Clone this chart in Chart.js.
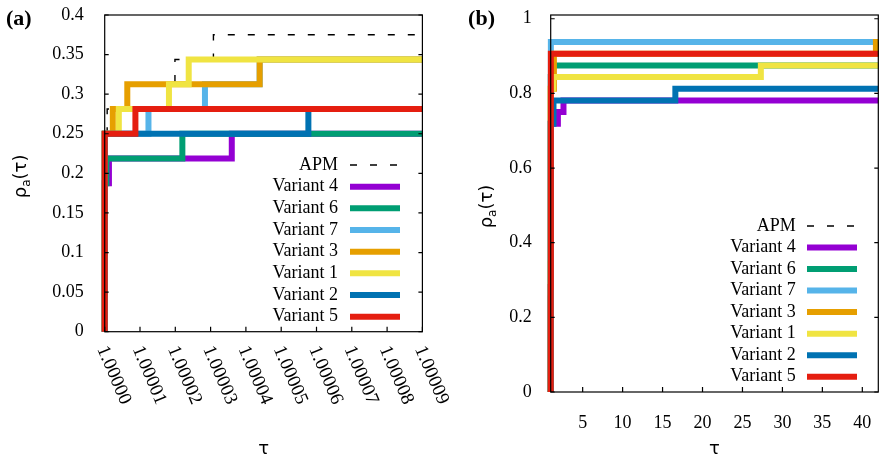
<!DOCTYPE html>
<html><head><meta charset="utf-8">
<script src="https://cdn.jsdelivr.net/npm/chart.js@4.4.0/dist/chart.umd.min.js"></script>
<style>
html,body{margin:0;padding:0;background:#fff;}
#wrap{position:relative;width:879px;height:459px;overflow:hidden;background:#fff;}
canvas{position:absolute;top:0;}
#ca{left:0;} #cb{left:440px;}
</style></head><body>
<div id="wrap"><canvas id="ca" width="470" height="459"></canvas><canvas id="cb" width="439" height="459"></canvas></div>
<script>
// ---------- data (performance profiles, step points: tau -> rho) ----------
const seriesNames = ['APM', 'Variant 4', 'Variant 6', 'Variant 7', 'Variant 3', 'Variant 1', 'Variant 2', 'Variant 5'];

const tauAPM = [1, 1, 1.0000007, 1.0000064, 1.0000199, 1.0000308, 1.01];
const rhoAPM = [0, 0.25, 0.28125, 0.3125, 0.34375, 0.375, 0.9375];

const tauV4 = [1, 1, 1.0000012, 1.0000360, 1.01, 1.9, 2.6];
const rhoV4 = [0, 0.1875, 0.21875, 0.25, 0.71875, 0.75, 0.78125];

const tauV6 = [1, 1, 1.0000005, 1.0000220, 1.01, 1.3];
const rhoV6 = [0, 0.1875, 0.21875, 0.25, 0.84375, 0.875];

const tauV7 = [1, 1, 1.0000124, 1.0000284, 1.0000439, 1.02];
const rhoV7 = [0, 0.25, 0.28125, 0.3125, 0.34375, 0.9375];

const tauV3 = [1, 1, 1.0000023, 1.0000064, 1.0000439, 1.01, 1.4, 41.7];
const rhoV3 = [0, 0.25, 0.28125, 0.3125, 0.34375, 0.8125, 0.90625, 0.9375];

const tauV1 = [1, 1, 1.0000040, 1.0000182, 1.0000238, 1.01, 1.3, 27.3];
const rhoV1 = [0, 0.25, 0.28125, 0.3125, 0.34375, 0.8125, 0.84375, 0.875];

const tauV2 = [1, 1, 1.0000577, 1.01, 1.35, 16.6];
const rhoV2 = [0, 0.25, 0.28125, 0.71875, 0.78125, 0.8125];

const tauV5 = [1, 1, 1.0000087, 1.02];
const rhoV5 = [0, 0.25, 0.28125, 0.90625];

const tauList = [tauAPM, tauV4, tauV6, tauV7, tauV3, tauV1, tauV2, tauV5];
const rhoList = [rhoAPM, rhoV4, rhoV6, rhoV7, rhoV3, rhoV1, rhoV2, rhoV5];

// ---------- ticks ----------
const xTicksA = [1.00000, 1.00001, 1.00002, 1.00003, 1.00004, 1.00005, 1.00006, 1.00007, 1.00008, 1.00009];
const xTickLabelsA = ['1.00000', '1.00001', '1.00002', '1.00003', '1.00004', '1.00005', '1.00006', '1.00007', '1.00008', '1.00009'];
const yTicksA = [0, 0.05, 0.1, 0.15, 0.2, 0.25, 0.3, 0.35, 0.4];
const yTickLabelsA = ['0', '0.05', '0.1', '0.15', '0.2', '0.25', '0.3', '0.35', '0.4'];
const xTicksB = [5, 10, 15, 20, 25, 30, 35, 40];
const xTickLabelsB = ['5', '10', '15', '20', '25', '30', '35', '40'];
const yTicksB = [0, 0.2, 0.4, 0.6, 0.8, 1];
const yTickLabelsB = ['0', '0.2', '0.4', '0.6', '0.8', '1'];

// ---------- text ----------
const panelLabels = ['(a)', '(b)'];
const xTitle = 'τ';
const yTitleParts = ['ρ', 'a', '(τ)'];

// ---------- styles ----------
const seriesColors = ['#000000', '#9400D3', '#009E73', '#56B4E9', '#E69F00', '#F0E442', '#0072B2', '#E51E10'];
const SERIF = '"Liberation Serif", "Times New Roman", serif';
const SANS = '"DejaVu Sans", sans-serif';

function stepData(tau, rho, xmax) {
  const pts = [];
  let last = rho[0];
  for (let i = 0; i < tau.length; i++) {
    if (tau[i] <= xmax) { pts.push({ x: tau[i], y: rho[i] }); last = rho[i]; }
  }
  pts.push({ x: xmax, y: last });
  return pts;
}

function makeDatasets(xmax) {
  return seriesNames.map((name, i) => ({
    label: name,
    data: stepData(tauList[i], rhoList[i], xmax),
    borderColor: seriesColors[i],
    backgroundColor: seriesColors[i],
    borderWidth: i === 0 ? 1.4 : 6,
    borderDash: i === 0 ? [7, 13] : [],
    stepped: 'before',
    pointRadius: 0,
    fill: false,
    clip: 4,
    order: seriesNames.length - 1 - i
  }));
}

const framePlugin = {
  id: 'gpFrame',
  afterDatasetsDraw(chart, args, o) {
    const { ctx, chartArea: a, scales: { x, y } } = chart;
    ctx.save();
    ctx.strokeStyle = '#000';
    ctx.lineWidth = 1.2;
    ctx.setLineDash([]);
    ctx.strokeRect(a.left, a.top, a.right - a.left, a.bottom - a.top);
    ctx.beginPath();
    x.ticks.forEach(t => {
      const px = x.getPixelForValue(t.value);
      ctx.moveTo(px, a.bottom); ctx.lineTo(px, a.bottom - o.xTick);
    });
    y.ticks.forEach(t => {
      const py = y.getPixelForValue(t.value);
      ctx.moveTo(a.left, py); ctx.lineTo(a.left + o.yTick, py);
      ctx.moveTo(a.right, py); ctx.lineTo(a.right - o.yTick, py);
    });
    ctx.stroke();
    ctx.restore();
  },
  afterDraw(chart, args, o) {
    const { ctx, chartArea: a, scales: { x } } = chart;
    ctx.save();
    ctx.fillStyle = '#000';
    // rotated tick labels
    if (o.rotLabels) {
      ctx.font = o.rotFont + 'px ' + SERIF;
      ctx.textAlign = 'left';
      ctx.textBaseline = 'middle';
      x.ticks.forEach((t, i) => {
        const px = x.getPixelForValue(t.value);
        ctx.save();
        ctx.translate(px + o.rotDx, a.bottom + o.rotDy);
        ctx.rotate(o.rotAngle * Math.PI / 180);
        ctx.fillText(o.rotLabels[i], 0, 0);
        ctx.restore();
      });
    }
    // legend
    const L = o.legend;
    chart.data.datasets.forEach((ds, i) => {
      const yy = L.y0 + i * L.dy;
      ctx.font = L.font + 'px ' + SERIF;
      ctx.textAlign = 'right';
      ctx.textBaseline = 'middle';
      ctx.fillStyle = '#000';
      ctx.fillText(ds.label, L.textRight, yy);
      ctx.beginPath();
      ctx.strokeStyle = ds.borderColor;
      ctx.lineWidth = ds.borderWidth;
      ctx.setLineDash(ds.borderDash || []);
      ctx.moveTo(L.x0, yy); ctx.lineTo(L.x1, yy);
      ctx.stroke();
    });
    ctx.setLineDash([]);
    // panel label
    ctx.font = 'bold ' + o.panel.size + 'px ' + SERIF;
    ctx.textAlign = o.panel.align;
    ctx.textBaseline = 'alphabetic';
    ctx.fillText(o.panel.text, o.panel.x, o.panel.y);
    // x title
    ctx.font = o.xt.size + 'px ' + SANS;
    ctx.textAlign = 'center';
    ctx.fillText(xTitle, (a.left + a.right) / 2, o.xt.y);
    // y title with subscript
    ctx.save();
    ctx.translate(o.yt.x, (a.top + a.bottom) / 2 + o.yt.dy);
    ctx.rotate(-Math.PI / 2);
    const parts = [[yTitleParts[0], o.yt.size, 0], [yTitleParts[1], o.yt.sub, o.yt.subDy], [yTitleParts[2], o.yt.size, 0]];
    let total = 0;
    parts.forEach(p => { ctx.font = p[1] + 'px ' + SANS; p.push(ctx.measureText(p[0]).width); total += p[3]; });
    let cx = -total / 2;
    ctx.textAlign = 'left';
    ctx.textBaseline = 'alphabetic';
    parts.forEach(p => { ctx.font = p[1] + 'px ' + SANS; ctx.fillText(p[0], cx, o.yt.base + p[2]); cx += p[3]; });
    ctx.restore();
    ctx.restore();
  }
};

function makeChart(id, c) {
  return new Chart(document.getElementById(id), {
    type: 'line',
    data: { datasets: makeDatasets(c.xmax) },
    options: {
      responsive: false,
      animation: false,
      devicePixelRatio: 1,
      layout: { padding: { left: 0, top: c.top, right: c.padRight, bottom: 0 } },
      elements: { line: { tension: 0 } },
      plugins: {
        legend: { display: false },
        tooltip: { enabled: false },
        gpFrame: c.frame
      },
      scales: {
        x: {
          type: 'linear', min: c.xmin, max: c.xmax,
          grid: { display: false }, border: { display: false },
          afterBuildTicks: s => { s.ticks = c.xTicks.map(v => ({ value: v })); },
          ticks: {
            display: c.showXLabels, autoSkip: false, maxRotation: 0, minRotation: 0,
            padding: 12, color: '#000', font: { family: SERIF, size: 18 },
            callback: (v, i) => c.xLabels[i]
          },
          afterFit: s => { s.height = c.xAxisH; s.paddingLeft = 0; s.paddingRight = 0; }
        },
        y: {
          type: 'linear', min: c.ymin, max: c.ymax,
          grid: { display: false }, border: { display: false },
          afterBuildTicks: s => { s.ticks = c.yTicks.map(v => ({ value: v })); },
          ticks: {
            autoSkip: false, padding: c.yPad, color: '#000', font: { family: SERIF, size: 18 },
            callback: (v, i) => c.yLabels[i]
          },
          afterFit: s => { s.width = c.yAxisW; s.paddingTop = 0; s.paddingBottom = 0; }
        }
      }
    },
    plugins: [framePlugin]
  });
}

// panel (a): plot area x 104.7..422.4, y 15..331.7
makeChart('ca', {
  xmin: 1, xmax: 1.00009, ymin: 0, ymax: 0.4,
  xTicks: xTicksA, xLabels: xTickLabelsA, yTicks: yTicksA, yLabels: yTickLabelsA,
  showXLabels: false,
  top: 15, padRight: 470 - 422.4, xAxisH: 459 - 331.7, yAxisW: 104.7, yPad: 13,
  frame: {
    xTick: 5, yTick: 4,
    rotLabels: xTickLabelsA, rotFont: 19, rotDx: -3, rotDy: 15, rotAngle: 67,
    legend: { y0: 165, dy: 21.67, textRight: 338, x0: 350, x1: 400, font: 18 },
    panel: { text: panelLabels[0], x: 6, y: 25, size: 22, align: 'left' },
    xt: { y: 453.5, size: 18 },
    yt: { x: 20, dy: 3, size: 18, sub: 12, subDy: 4, base: 6 }
  }
});

// panel (b): plot area x 550.7..878.3, y 15..392 (canvas offset 440)
makeChart('cb', {
  xmin: 1, xmax: 42, ymin: 0, ymax: 1.01,
  xTicks: xTicksB, xLabels: xTickLabelsB, yTicks: yTicksB, yLabels: yTickLabelsB,
  showXLabels: true,
  top: 15, padRight: 439 - 438.3, xAxisH: 459 - 392, yAxisW: 110.7, yPad: 11,
  frame: {
    xTick: 5, yTick: 4,
    rotLabels: null,
    legend: { y0: 226, dy: 21.53, textRight: 355.7, x0: 367, x1: 417, font: 18 },
    panel: { text: panelLabels[1], x: 55, y: 25, size: 22, align: 'right' },
    xt: { y: 453.5, size: 18 },
    yt: { x: 46, dy: 3, size: 18, sub: 12, subDy: 4, base: 6 }
  }
});
</script>
</body></html>
